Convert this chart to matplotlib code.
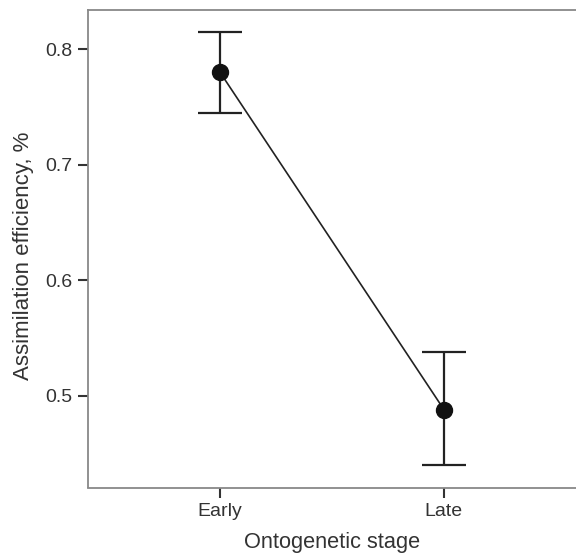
import matplotlib
matplotlib.use("Agg")
import matplotlib.pyplot as plt

stages = ["Early", "Late"]
means = [0.780, 0.488]
upper = [0.815, 0.538]
lower = [0.745, 0.440]

plt.rcParams['font.family'] = ['Liberation Sans', 'DejaVu Sans']

fig = plt.figure(figsize=(5.76, 5.55), dpi=100)
ax = fig.add_axes([88/576, 1 - 487.5/555, (576 - 88)/576, (487.5 - 10)/555])

x = list(range(1, len(stages) + 1))
yerr = [[m - l for m, l in zip(means, lower)], [u - m for m, u in zip(means, upper)]]
ax.errorbar(x, means, yerr=yerr, fmt='none', ecolor='#222222', elinewidth=1.6,
            capsize=16, capthick=1.6, zorder=2)
ax.plot(x, means, color='#222222', lw=1.2, zorder=3)
ax.plot(x, means, 'o', color='#111111', markersize=11.5, zorder=4)

ax.set_xlim(0.41, 2.59)
ax.set_ylim(0.4205, 0.834)
ax.set_xticks(x)
ax.set_xticklabels(stages)
ax.set_yticks([0.5, 0.6, 0.7, 0.8])
ax.set_yticklabels(["0.5", "0.6", "0.7", "0.8"])

for s in ['left', 'bottom', 'top']:
    ax.spines[s].set_color('#888888')
    ax.spines[s].set_linewidth(1.3)
ax.spines['right'].set_visible(False)

ax.tick_params(axis='both', direction='out', length=7, width=1.5, color='#333333',
               labelsize=14, labelcolor='#333333', pad=4)

ax.set_xlabel("Ontogenetic stage", fontsize=15.7, color='#333333', labelpad=9)
ax.set_ylabel("Assimilation efficiency, %", fontsize=16, color='#333333')
ax.yaxis.set_label_coords(-0.11, 0.486)

fig.savefig("out.png", dpi=100)
